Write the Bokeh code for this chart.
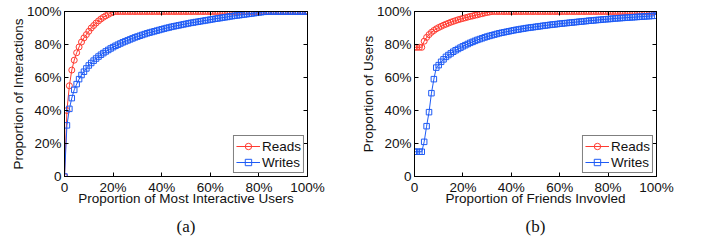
from bokeh.plotting import figure
from bokeh.layouts import row
from bokeh.models import (FixedTicker, CustomJSTickFormatter, LinearAxis, Range1d,
                          Legend, LegendItem, Title, CustomLabelingPolicy, Spacer)
from bokeh.embed import file_html
from bokeh.resources import INLINE

# ---------------- data (percent) ----------------
x_pct = list(range(0, 101))

a_reads = [0, 40, 55, 64.5, 70.5, 75, 78.5, 81.5, 84, 86, 88, 90, 91.5, 93, 94.3, 95.5,
           96.5, 97.4, 98.2, 99, 99.6, 100] + [100] * 79

a_writes = [0, 31, 41, 47.5, 52.5, 56, 59, 61.5, 63.5, 65.5, 67.3, 68.8, 70.2, 71.5, 72.7,
            73.8, 74.8, 75.8, 76.7, 77.6, 78.4, 79.2, 79.9, 80.6, 81.3, 81.9, 82.5, 83.1,
            83.7, 84.3, 84.8, 85.3, 85.8, 86.3, 86.8, 87.2, 87.6, 88.0, 88.4, 88.8, 89.2,
            89.6, 90.0, 90.3, 90.7, 91.0, 91.3, 91.6, 91.9, 92.2, 92.5, 92.8, 93.1, 93.3,
            93.6, 93.8, 94.1, 94.3, 94.6, 94.8, 95.1, 95.3, 95.6, 95.8, 96.0, 96.3, 96.5,
            96.7, 97.0, 97.2, 97.4, 97.6, 97.8, 98.0, 98.2, 98.4, 98.6, 98.8, 99.0, 99.2,
            99.4, 99.6, 99.8, 99.9, 100] + [100] * 16

b_reads = [78.3, 78.3, 78.3, 78.3, 82, 84.3, 86, 87.4, 88.5, 89.5, 90.3, 91.0, 91.7, 92.3,
           92.9, 93.5, 94.0, 94.5, 95.0, 95.4, 95.8, 96.2, 96.6, 97.0, 97.3, 97.7, 98.0,
           98.4, 98.7, 99.1, 99.4, 99.7, 100] + [100] * 68

b_writes = [15, 15, 15, 15, 21, 30.5, 39, 50.5, 59, 66, 67.5, 69.5, 71, 72.5, 73.6, 74.6,
            75.6, 76.5, 77.3, 78.1, 78.9, 79.6, 80.3, 81.0, 81.6, 82.2, 82.8, 83.3, 83.8,
            84.3, 84.8, 85.2, 85.6, 86.0, 86.4, 86.8, 87.1, 87.4, 87.7, 88.0, 88.3, 88.6,
            88.9, 89.1, 89.4, 89.6, 89.9, 90.1, 90.3, 90.5, 90.7, 90.9, 91.1, 91.3, 91.5,
            91.7, 91.9, 92.1, 92.2, 92.4, 92.6, 92.7, 92.9, 93.0, 93.2, 93.3, 93.5, 93.6,
            93.8, 93.9, 94.1, 94.2, 94.4, 94.5, 94.6, 94.8, 94.9, 95.0, 95.2, 95.3, 95.4,
            95.5, 95.7, 95.8, 95.9, 96.0, 96.1, 96.2, 96.3, 96.4, 96.5, 96.6, 96.7, 96.8,
            96.9, 97.0, 97.1, 97.2, 97.3, 97.4, 100]

ticks = [0, 20, 40, 60, 80, 100]
series_names = ["Reads", "Writes"]
panel_titles = ["(a)", "(b)"]
x_labels = ["Proportion of Most Interactive Users", "Proportion of Friends Invovled"]
y_labels = ["Proportion of Interactions", "Proportion of Users"]

RED = "#FF3B30"
BLUE = "#1E5BF5"
FONT = "Liberation Sans"
FS = "13.5px"
fmt_code = "return tick == 0 ? '0' : tick.toFixed(0) + '%';"
no_labels = "for (const i of indices) indices.unset(i); return indices;"


def make_panel(reads, writes, xlab, ylab, title, right, fw):
    p = figure(frame_width=fw, frame_height=165, output_backend="svg",
               toolbar_location=None,
               x_range=Range1d(0, 100), y_range=Range1d(0, 100),
               min_border_left=0, min_border_right=right, min_border_top=3,
               min_border_bottom=0)
    p.grid.visible = False
    p.outline_line_color = "black"
    p.outline_line_width = 1
    p.background_fill_color = "white"
    p.border_fill_color = "white"

    for ax, lab in ((p.xaxis[0], xlab), (p.yaxis[0], ylab)):
        ax.ticker = FixedTicker(ticks=ticks)
        ax.formatter = CustomJSTickFormatter(code=fmt_code)
        ax.axis_label = lab
        ax.axis_label_text_font = FONT
        ax.axis_label_text_font_style = "normal"
        ax.axis_label_text_font_size = FS
        ax.major_label_text_font = FONT
        ax.major_label_text_font_size = FS
        ax.major_label_text_color = "#111111"
        ax.axis_label_text_color = "#111111"
        ax.major_tick_in = 4
        ax.major_tick_out = 0
        ax.minor_tick_in = 0
        ax.minor_tick_out = 0
        ax.axis_line_color = "black"
        ax.major_tick_line_color = "black"
    p.xaxis[0].axis_label_standoff = -7
    p.xaxis[0].major_label_standoff = 3
    p.yaxis[0].axis_label_standoff = -2
    p.yaxis[0].major_label_standoff = 3

    for loc in ("right", "above"):
        ax = LinearAxis(ticker=FixedTicker(ticks=ticks),
                        major_label_policy=CustomLabelingPolicy(code=no_labels),
                        major_label_standoff=0, major_tick_in=4, major_tick_out=0,
                        minor_tick_in=0, minor_tick_out=0, axis_line_color="black",
                        major_tick_line_color="black")
        p.add_layout(ax, loc)

    rl = p.line(x_pct, reads, line_color=RED, line_width=1)
    rs = p.scatter(x_pct, reads, marker="circle", size=6, line_color=RED,
                   fill_color=None, line_width=1)
    wl = p.line(x_pct, writes, line_color=BLUE, line_width=1)
    ws = p.scatter(x_pct, writes, marker="square", size=5.5, line_color=BLUE,
                   fill_color=None, line_width=1)

    legend = Legend(items=[LegendItem(label=series_names[0], renderers=[rl, rs]),
                           LegendItem(label=series_names[1], renderers=[wl, ws])],
                    location="bottom_right")
    legend.margin = 3
    legend.padding = 2
    legend.spacing = 0
    legend.border_line_color = "black"
    legend.border_line_width = 1
    legend.label_text_font = FONT
    legend.label_text_font_size = FS
    legend.label_text_color = "#111111"
    legend.glyph_width = 24
    legend.glyph_height = 16
    legend.label_height = 16
    legend.label_standoff = 2
    legend.background_fill_alpha = 1
    p.add_layout(legend, "center")

    t = Title(text=title, align="center", text_font="Liberation Serif",
              text_font_size="17px", text_font_style="normal", text_color="#111111",
              standoff=12, offset=0)
    p.add_layout(t, "below")
    return p


pa = make_panel(a_reads, a_writes, x_labels[0], y_labels[0], panel_titles[0], 50, 243)
pb = make_panel(b_reads, b_writes, x_labels[1], y_labels[1], panel_titles[1], 26, 242)

layout = row(Spacer(width=7, height=10), pa, pb, spacing=0)
open("out.html", "w").write(file_html(layout, INLINE))
